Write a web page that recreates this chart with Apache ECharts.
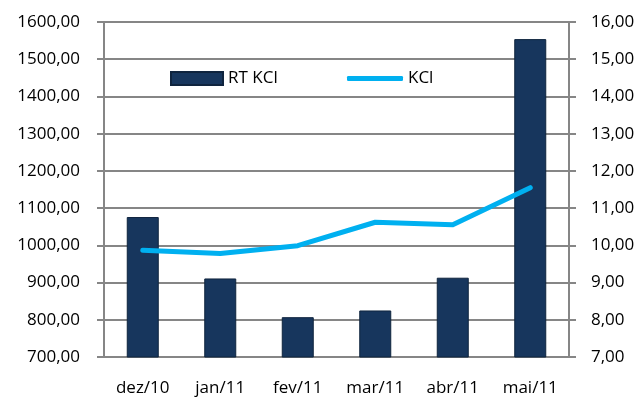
<!DOCTYPE html>
<html>
<head>
<meta charset="utf-8">
<script src="https://cdn.jsdelivr.net/npm/echarts@6/dist/echarts.min.js"></script>
<style>
  html, body { margin: 0; padding: 0; background: #fff; }
  #chart { width: 642px; height: 403px; }
</style>
</head>
<body>
<div id="chart"></div>
<script>
const months = ['dez/10', 'jan/11', 'fev/11', 'mar/11', 'abr/11', 'mai/11']
const rtKcl = [1076, 911, 807, 825, 913, 1554]
const kcl = [9.87, 9.78, 9.99, 10.62, 10.55, 11.55]

const fmt = v => v.toFixed(2).replace('.', ',')
const font = 'Open Sans'

let chart = echarts.init(document.getElementById('chart'))
let option = {
    animation: false,
    textStyle: { fontFamily: font },
    legend: [
        {
            data: [{ name: 'RT KCl', icon: 'rect' }],
            left: 170, top: 70, padding: 0,
            itemWidth: 52, itemHeight: 13, itemGap: 6,
            textStyle: { fontSize: 17, color: '#000', fontFamily: font },
        },
        {
            data: [{ name: 'KCl', icon: 'roundRect' }],
            left: 347, top: 70, padding: 0,
            itemWidth: 56, itemHeight: 5, itemGap: 4,
            textStyle: { fontSize: 17, color: '#000', fontFamily: font },
        },
    ],
    grid: { // plot area
        left: 104,
        right: 73,
        top: 22,
        bottom: 46,
        containLabel: false,
    },
    xAxis: {
        type: 'category',
        data: months,
        boundaryGap: true,
        axisLine: { lineStyle: { color: '#868686', width: 2 } },
        axisTick: { length: 6, lineStyle: { color: '#868686', width: 2 } },
        axisLabel: { color: '#000', fontSize: 17, margin: 23, fontFamily: font },
    },
    yAxis: [
        {
            type: 'value',
            min: 700, max: 1600, interval: 100,
            axisLine: { show: true, lineStyle: { color: '#868686', width: 2 } },
            axisTick: { show: true, length: 7, lineStyle: { color: '#868686', width: 2 } },
            splitLine: { lineStyle: { color: '#868686', width: 2 } },
            axisLabel: { color: '#000', fontSize: 17, margin: 24, formatter: fmt, fontFamily: font },
        },
        {
            type: 'value',
            min: 7, max: 16, interval: 1,
            axisLine: { show: true, lineStyle: { color: '#868686', width: 2 } },
            axisTick: { show: true, length: 7, lineStyle: { color: '#868686', width: 2 } },
            splitLine: { show: false },
            axisLabel: { color: '#000', fontSize: 17, margin: 22, formatter: fmt, fontFamily: font },
        },
    ],
    series: [
        {
            name: 'RT KCl',
            type: 'bar',
            data: rtKcl,
            barWidth: 32,
            itemStyle: { color: '#17365D', borderColor: '#0F243E', borderWidth: 1 },
        },
        {
            name: 'KCl',
            type: 'line',
            yAxisIndex: 1,
            data: kcl,
            symbol: 'none',
            lineStyle: { color: '#00B0F0', width: 5, cap: 'round', join: 'round' },
            itemStyle: { color: '#00B0F0' },
        },
    ],
}
chart.setOption(option)
window.addEventListener('resize', () => {
    chart.resize()
})
</script>
</body>
</html>
